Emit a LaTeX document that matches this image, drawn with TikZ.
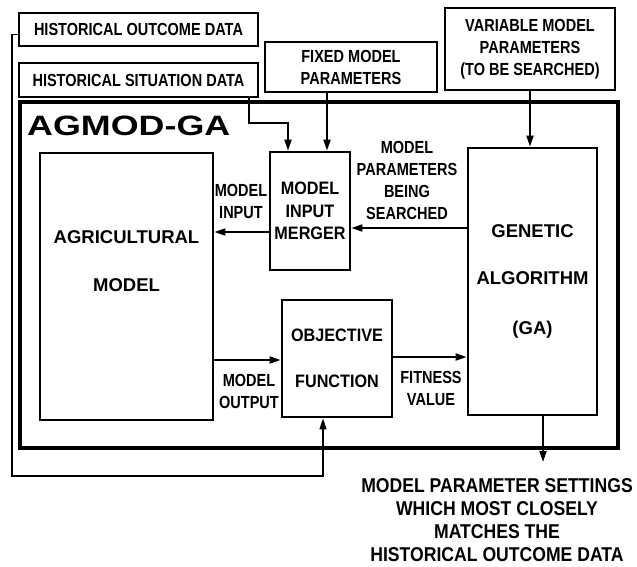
\documentclass[tikz,border=0pt]{standalone}
\usepackage{fontspec}
\setmainfont{Liberation Sans}
\newfontfamily\narrowfont[FakeStretch=0.83]{Liberation Sans}
\newfontfamily\semifont[FakeStretch=0.90]{Liberation Sans}
\newfontfamily\outfont[FakeStretch=0.88]{Liberation Sans}
\newfontfamily\widefont[FakeStretch=1.28]{Liberation Sans}
\usetikzlibrary{arrows.meta,calc}

\newcommand\lblfnt{\narrowfont\bfseries\fontsize{17.5}{22}\selectfont}
\newcommand\midfnt{\semifont\bfseries\fontsize{18}{22.5}\selectfont}
\newcommand\titlefnt{\bfseries\fontsize{18.5}{22}\selectfont}
\newcommand\outfnt{\outfont\bfseries\fontsize{20}{23}\selectfont}
\newcommand\bigfnt{\widefont\bfseries\fontsize{28}{30}\selectfont}

\begin{document}
\begin{tikzpicture}[x=1pt,y=-1pt,
  inbox/.style={draw,line width=2.2pt,inner sep=0pt,align=center,font=\lblfnt},
  blk/.style={draw,line width=2.8pt,inner sep=0pt,align=center},
  frame/.style={draw,line width=3.4pt,inner sep=0pt},
  arr/.style={line width=1.9pt,-{Triangle[length=11pt,width=7pt]}},
  feed/.style={line width=1.5pt},
  lbl/.style={align=center,font=\lblfnt,inner sep=0pt}
]
\useasboundingbox (0,0) rectangle (637,566);

% input data boxes
\node[inbox,minimum width=239pt,minimum height=33pt] (hod) at (138.5,29.5) {HISTORICAL OUTCOME DATA};
\node[inbox,minimum width=239pt,minimum height=34pt] (hsd) at (138.5,80) {HISTORICAL SITUATION DATA};
\node[inbox,minimum width=172pt,minimum height=50pt] (fmp) at (351,67) {FIXED MODEL\\PARAMETERS};
\node[inbox,minimum width=170pt,minimum height=82pt] (vmp) at (530,49) {VARIABLE MODEL\\PARAMETERS\\(TO BE SEARCHED)};

% AGMOD-GA system frame
\node[frame,minimum width=598pt,minimum height=346pt] (agmod) at (319,275) {};
\node[anchor=base west,inner sep=0pt,font=\bigfnt] (agtitle) at (27,135) {AGMOD-GA};

% inner blocks
\node[blk,minimum width=173pt,minimum height=267pt] (agri) at (126.5,286.5) {};
\node[align=center,inner sep=0pt,font=\titlefnt] (agritxt) at (126.5,261) {AGRICULTURAL\\[26pt]MODEL};
\node[blk,minimum width=80pt,minimum height=118pt,font=\midfnt] (merger) at (310,211) {MODEL\\INPUT\\MERGER};
\node[blk,minimum width=129pt,minimum height=267pt,font=\titlefnt] (ga) at (532.5,281.5) {GENETIC\\[25pt]ALGORITHM\\[28pt](GA)};
\node[blk,minimum width=110pt,minimum height=117pt,font=\midfnt] (obj) at (337,358.5) {OBJECTIVE\\[23.5pt]FUNCTION};

% connector labels
\node[lbl] (lin) at (241,201) {MODEL\\INPUT};
\node[lbl] (lsearch) at (407,180) {MODEL\\PARAMETERS\\BEING\\SEARCHED};
\node[lbl] (lout) at (249,391) {MODEL\\OUTPUT};
\node[lbl] (lfit) at (431,388) {FITNESS\\VALUE};
\node[align=center,inner sep=0pt,font=\outfnt] (result) at (497,520)
  {MODEL PARAMETER SETTINGS\\WHICH MOST CLOSELY\\MATCHES THE\\HISTORICAL OUTCOME DATA};

% helper coordinates for connector routes
\coordinate (hsdturn) at (288,123);
\coordinate (fmpx) at (327,0);
\coordinate (ysearch) at (0,228);
\coordinate (yinput) at (0,232);
\coordinate (youtput) at (0,360);
\coordinate (yfit) at (0,357);
\coordinate (outtip) at (543,462);
\coordinate (feedleft) at (12,476);
\coordinate (feedx) at (323,0);

% connectors
\draw[arr] ([xshift=-10pt]hsd.south east) |- (hsdturn) -- (hsdturn |- merger.north);
\draw[arr] (fmpx |- fmp.south) -- (fmpx |- merger.north);
\draw[arr] (vmp.south) -- (vmp.south |- ga.north);
\draw[arr] (ga.west |- ysearch) -- (merger.east |- ysearch);
\draw[arr] (merger.west |- yinput) -- (agri.east |- yinput);
\draw[arr] (agri.east |- youtput) -- (obj.west |- youtput);
\draw[arr] (obj.east |- yfit) -- (ga.west |- yfit);
\draw[arr] (ga.south -| outtip) -- (outtip);
\draw[feed,-{Triangle[length=11pt,width=7pt]}] ([yshift=-5pt]hod.west) -| (feedleft) -| (feedx |- obj.south);
\end{tikzpicture}
\end{document}
